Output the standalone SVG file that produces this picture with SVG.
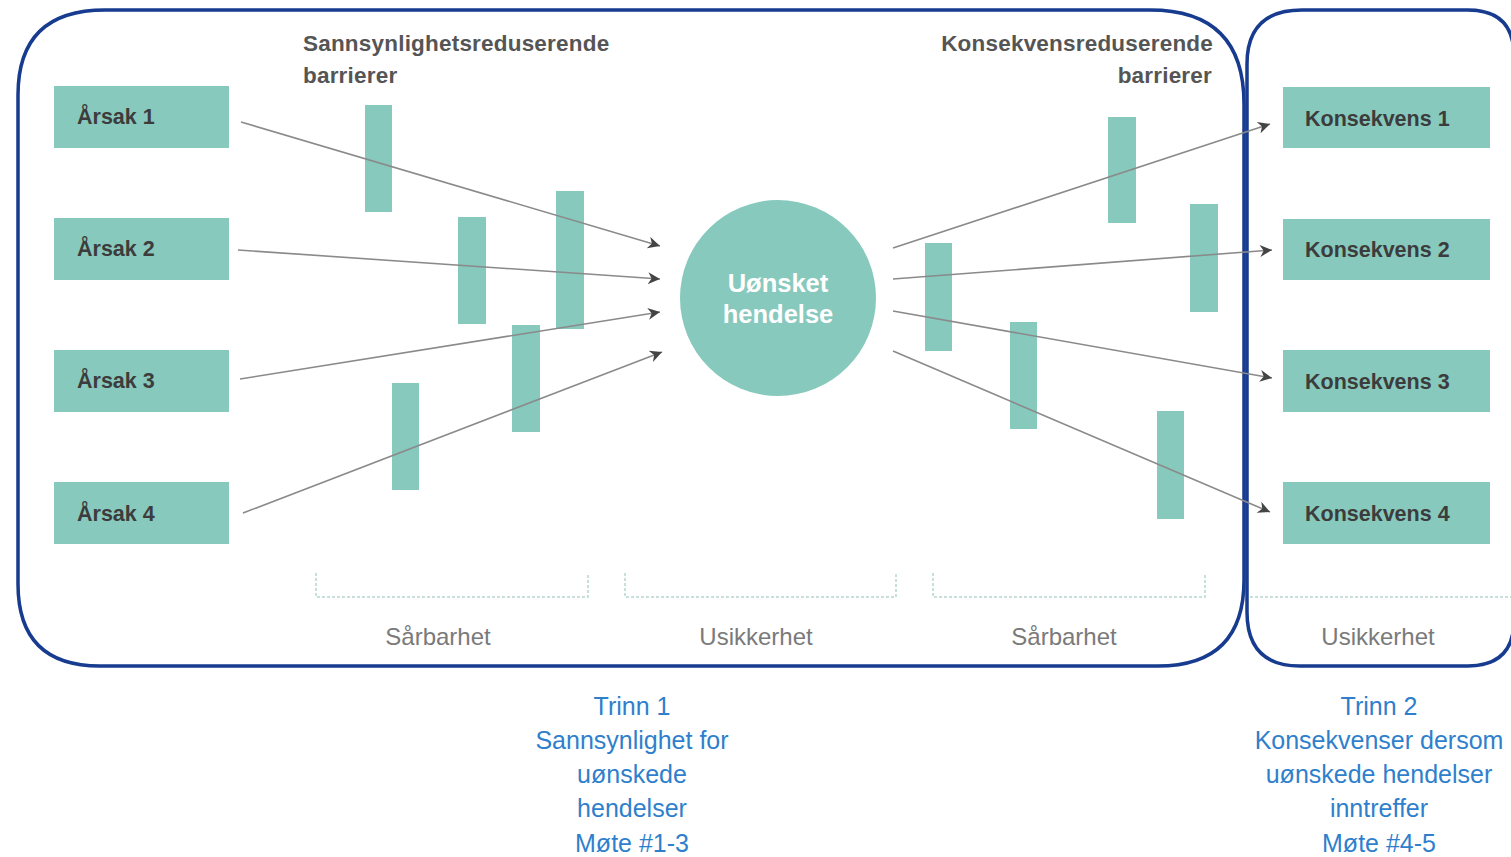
<svg xmlns="http://www.w3.org/2000/svg" width="1511" height="857" viewBox="0 0 1511 857">
<style>
.frame{fill:none;stroke:#173b8f;stroke-width:3.5}
.box{fill:#87c9bd}
.bar{fill:#87c9bd}
.nt{font-family:"Liberation Sans",Arial,sans-serif;font-weight:bold;font-size:21.5px;fill:#3c3c3c}
.hdr{font-family:"Liberation Sans",Arial,sans-serif;font-weight:bold;font-size:22.5px;fill:#555;letter-spacing:0.2px}
.lbl{font-family:"Liberation Sans",Arial,sans-serif;font-size:24px;fill:#7a7a7a;text-anchor:middle}
.blue{font-family:"Liberation Sans",Arial,sans-serif;font-size:25px;fill:#2f7fcc;text-anchor:middle}
.conn{stroke:#8a8a8a;stroke-width:1.6;fill:none;marker-end:url(#ah)}
.brk{fill:none;stroke:#b7d6cf;stroke-width:1.5;stroke-dasharray:3 2}
</style>
<defs>
<marker id="ah" viewBox="0 0 10 10" refX="10" refY="5" markerWidth="13" markerHeight="12" markerUnits="userSpaceOnUse" orient="auto">
<path d="M0,0 L10,5 L0,10 L3,5 Z" fill="#444"/>
</marker>
</defs>
<rect width="1511" height="857" fill="#fff"/>
<g id="frames">
<path class="frame" d="M105,10 H1150 Q1244,10 1244,104 V580 Q1244,666 1158,666 H100 Q18,666 18,584 V95 Q18,10 105,10 Z"/>
<path class="frame" d="M1302,10 H1468 Q1514,10 1514,56 V620 Q1514,666 1468,666 H1300 Q1247,666 1247,612 V64 Q1247,10 1302,10 Z"/>
</g>
<g id="headers">
<text class="hdr" x="303" y="51">Sannsynlighetsreduserende</text>
<text class="hdr" x="303" y="83">barrierer</text>
<text class="hdr" x="1213" y="51" text-anchor="end">Konsekvensreduserende</text>
<text class="hdr" x="1212" y="83" text-anchor="end">barrierer</text>
</g>
<g id="barriers">
<rect class="bar" x="365" y="105" width="27" height="107"/>
<rect class="bar" x="458" y="217" width="28" height="107"/>
<rect class="bar" x="556" y="191" width="28" height="138"/>
<rect class="bar" x="512" y="325" width="28" height="107"/>
<rect class="bar" x="392" y="383" width="27" height="107"/>
<rect class="bar" x="1108" y="117" width="28" height="106"/>
<rect class="bar" x="1190" y="204" width="28" height="108"/>
<rect class="bar" x="925" y="243" width="27" height="108"/>
<rect class="bar" x="1010" y="322" width="27" height="107"/>
<rect class="bar" x="1157" y="411" width="27" height="108"/>
</g>
<g id="connectors">
<line class="conn" x1="241" y1="122" x2="660" y2="246"/>
<line class="conn" x1="238" y1="250" x2="660" y2="279"/>
<line class="conn" x1="240" y1="379" x2="660" y2="312"/>
<line class="conn" x1="243" y1="513" x2="662" y2="352"/>
<line class="conn" x1="893" y1="248" x2="1270" y2="124"/>
<line class="conn" x1="893" y1="279" x2="1272" y2="250"/>
<line class="conn" x1="893" y1="311" x2="1272" y2="378"/>
<line class="conn" x1="893" y1="351" x2="1270" y2="512"/>
</g>
<g id="aarsak1"><rect class="box" x="54" y="86" width="175" height="62"/><text class="nt" x="77" y="124">Årsak 1</text></g>
<g id="aarsak2"><rect class="box" x="54" y="218" width="175" height="62"/><text class="nt" x="77" y="256">Årsak 2</text></g>
<g id="aarsak3"><rect class="box" x="54" y="350" width="175" height="62"/><text class="nt" x="77" y="388">Årsak 3</text></g>
<g id="aarsak4"><rect class="box" x="54" y="482" width="175" height="62"/><text class="nt" x="77" y="521">Årsak 4</text></g>
<g id="hendelse">
<circle cx="778" cy="298" r="98" fill="#87c9bd"/>
<text x="778" y="292" text-anchor="middle" font-family="Liberation Sans, Arial, sans-serif" font-weight="bold" font-size="25.5" fill="#fff">Uønsket</text>
<text x="778" y="323" text-anchor="middle" font-family="Liberation Sans, Arial, sans-serif" font-weight="bold" font-size="25.5" fill="#fff">hendelse</text>
</g>
<g id="konsekvens1"><rect class="box" x="1283" y="87" width="207" height="61"/><text class="nt" x="1305" y="126">Konsekvens 1</text></g>
<g id="konsekvens2"><rect class="box" x="1283" y="219" width="207" height="61"/><text class="nt" x="1305" y="257">Konsekvens 2</text></g>
<g id="konsekvens3"><rect class="box" x="1283" y="350" width="207" height="62"/><text class="nt" x="1305" y="389">Konsekvens 3</text></g>
<g id="konsekvens4"><rect class="box" x="1283" y="482" width="207" height="62"/><text class="nt" x="1305" y="521">Konsekvens 4</text></g>
<g id="brackets">
<path class="brk" d="M316,573 V597 H588 V573"/>
<path class="brk" d="M625,573 V597 H896 V573"/>
<path class="brk" d="M933,573 V597 H1205 V573"/>
<path class="brk" d="M1250,597 H1511"/>
</g>
<g id="labels">
<text class="lbl" x="438" y="645">Sårbarhet</text>
<text class="lbl" x="756" y="645">Usikkerhet</text>
<text class="lbl" x="1064" y="645">Sårbarhet</text>
<text class="lbl" x="1378" y="645">Usikkerhet</text>
</g>
<g id="trinn1">
<text class="blue" x="632" y="715">Trinn 1</text>
<text class="blue" x="632" y="749">Sannsynlighet for</text>
<text class="blue" x="632" y="783">uønskede</text>
<text class="blue" x="632" y="817">hendelser</text>
<text class="blue" x="632" y="852">Møte #1-3</text>
</g>
<g id="trinn2">
<text class="blue" x="1379" y="715">Trinn 2</text>
<text class="blue" x="1379" y="749">Konsekvenser dersom</text>
<text class="blue" x="1379" y="783">uønskede hendelser</text>
<text class="blue" x="1379" y="817">inntreffer</text>
<text class="blue" x="1379" y="852">Møte #4-5</text>
</g>
</svg>
